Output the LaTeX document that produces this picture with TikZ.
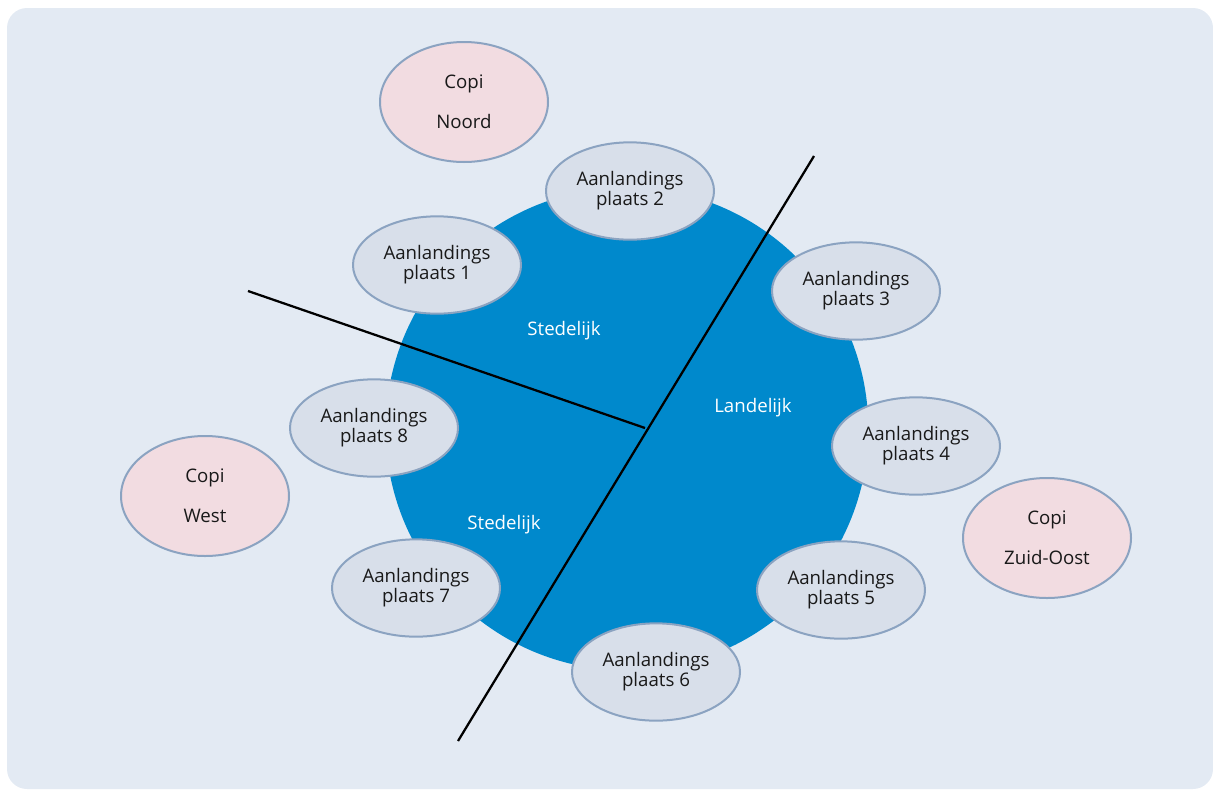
\documentclass[tikz,border=0pt]{standalone}
\usepackage{fontspec}
\setmainfont{Open Sans}
\usetikzlibrary{shapes.geometric}
\definecolor{bgc}{HTML}{E3EAF3}
\definecolor{circc}{HTML}{0089CC}
\definecolor{ellfill}{HTML}{D8DFEA}
\definecolor{ellline}{HTML}{8BA3C1}
\definecolor{copifill}{HTML}{F2DCE1}
\tikzset{
  plaats/.style={ellipse, draw=ellline, line width=1.5pt, fill=ellfill,
    minimum width=126pt, minimum height=73pt, inner sep=0pt, align=center,
    font=\fontsize{14pt}{15pt}\selectfont, text=black!90},
  copi/.style={ellipse, draw=ellline, line width=1.5pt, fill=copifill,
    minimum width=126pt, minimum height=90pt, inner sep=0pt, align=center,
    font=\fontsize{14pt}{15pt}\selectfont, text=black!90},
  region/.style={text=white, font=\fontsize{14pt}{15pt}\selectfont},
  divider/.style={draw=black, line width=1.7pt}
}
\begin{document}
\begin{tikzpicture}[x=0.75pt,y=-0.75pt]
\useasboundingbox (0,0) rectangle (1213,789);
\fill[bgc, rounded corners=15pt] (7,8) rectangle (1213,789);
\node[circle, fill=circc, minimum size=362pt, inner sep=0pt] (zone) at (627,429) {};
\coordinate (l1a) at (814,156);
\coordinate (l1b) at (458,741);
\coordinate (l2a) at (248,291);
\coordinate (l2b) at (645,428);
\draw[divider] (l1a) -- (l1b);
\draw[divider] (l2a) -- (l2b);
\node[region] (s1) at (564,331) {Stedelijk};
\node[region] (la) at (753,408) {Landelijk};
\node[region] (s2) at (504,525) {Stedelijk};
\node[plaats] (p2) at (630,191) {Aanlandings\\plaats 2};
\node[plaats] (p1) at (437,265) {Aanlandings\\plaats 1};
\node[plaats] (p3) at (856,291) {Aanlandings\\plaats 3};
\node[plaats] (p8) at (374,428) {Aanlandings\\plaats 8};
\node[plaats] (p4) at (916,446) {Aanlandings\\plaats 4};
\node[plaats] (p7) at (416,588) {Aanlandings\\plaats 7};
\node[plaats] (p5) at (841,590) {Aanlandings\\plaats 5};
\node[plaats] (p6) at (656,672) {Aanlandings\\plaats 6};
\node[copi] (cn) at (464,102) {Copi\\[15pt]Noord};
\node[copi] (cw) at (205,496) {Copi\\[15pt]West};
\node[copi] (cz) at (1047,538) {Copi\\[15pt]Zuid-Oost};
\end{tikzpicture}
\end{document}
